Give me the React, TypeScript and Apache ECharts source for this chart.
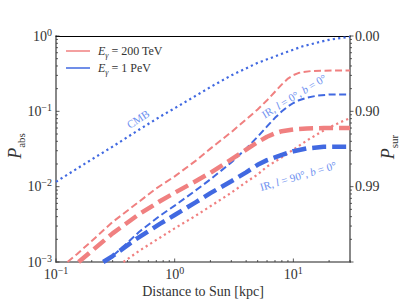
import React, { useEffect, useRef } from "react";
import * as echarts from "echarts";

// ---------- data (distance in kpc, absorption probability) ----------
const cmb1PeVDist = [0.1, 0.2, 0.3, 0.5, 0.8, 1, 2, 3, 5, 8, 12, 16, 20, 25, 30];
const cmb1PeVPabs = [0.0116, 0.023, 0.034, 0.057, 0.09, 0.11, 0.21, 0.3, 0.44, 0.58, 0.73, 0.82, 0.89, 0.94, 0.97];

const irGC200TeVDist = [0.125, 0.15, 0.2, 0.3, 0.5, 0.7, 1, 1.5, 2, 3, 4, 5, 6, 7, 8, 9, 10, 11, 12, 14, 17, 22, 30];
const irGC200TeVPabs = [0.001, 0.00127, 0.0019, 0.0034, 0.0063, 0.0095, 0.0137, 0.022, 0.032, 0.053, 0.078, 0.106, 0.14, 0.182, 0.228, 0.272, 0.303, 0.322, 0.333, 0.342, 0.346, 0.348, 0.348];

const ir90200TeVDist = [0.155, 0.2, 0.3, 0.5, 0.75, 1, 1.5, 2, 3, 4, 5, 6, 7, 8, 10, 13, 18, 30];
const ir90200TeVPabs = [0.001, 0.0014, 0.0024, 0.0043, 0.0064, 0.0083, 0.0118, 0.0153, 0.023, 0.031, 0.039, 0.046, 0.051, 0.0545, 0.0575, 0.0592, 0.06, 0.06];

const irGC1PeVDist = [0.26, 0.3, 0.4, 0.5, 0.75, 1, 1.5, 2, 3, 4, 5, 6, 7, 8, 9, 10, 11, 13, 16, 20, 30];
const irGC1PeVPabs = [0.001, 0.0012, 0.0018, 0.0025, 0.0041, 0.0056, 0.0089, 0.0125, 0.021, 0.032, 0.046, 0.063, 0.082, 0.1, 0.116, 0.129, 0.139, 0.152, 0.162, 0.167, 0.168];

const ir901PeVDist = [0.25, 0.3, 0.46, 0.75, 1, 1.5, 2, 3, 4, 5, 6, 8, 10, 13, 18, 30];
const ir901PeVPabs = [0.001, 0.0012, 0.00196, 0.0032, 0.0042, 0.0062, 0.0082, 0.0118, 0.0155, 0.0195, 0.0225, 0.0265, 0.0295, 0.0322, 0.0338, 0.034];

const cmb200TeVDist = [0.37, 0.5, 0.75, 1, 1.5, 2, 3, 4, 5, 6, 8, 10, 13, 16, 20, 25, 30];
const cmb200TeVPabs = [0.001, 0.0014, 0.0021, 0.0028, 0.0041, 0.0055, 0.0083, 0.0115, 0.0145, 0.0185, 0.0245, 0.031, 0.041, 0.05, 0.061, 0.072, 0.081];

// ---------- axes / ticks ----------
const xMin = 0.1;
const xMax = 30;
const yMin = 0.001;
const yMax = 1;
const xMajorTicks = [0.1, 1, 10];
const xMinorTicks = [0.2, 0.3, 0.4, 0.5, 0.6, 0.7, 0.8, 0.9, 2, 3, 4, 5, 6, 7, 8, 9, 20, 30];
const yMajorTicks = [0.001, 0.01, 0.1, 1];
const yMinorTicks = [
  0.002, 0.003, 0.004, 0.005, 0.006, 0.007, 0.008, 0.009,
  0.02, 0.03, 0.04, 0.05, 0.06, 0.07, 0.08, 0.09,
  0.2, 0.3, 0.4, 0.5, 0.6, 0.7, 0.8, 0.9,
];
const rightTickValues = [1, 0.1, 0.01];
const rightTickLabels = ["0.00", "0.90", "0.99"];

const RED = "#F08080";
const BLUE = "#4169E1";
const ANNOT = "#6E90F0";
const FONT = "Liberation Serif";
const TXT = "#333";

const zip = (a: number[], b: number[]) => a.map((v, i) => [v, b[i]]);

const powLabel = (v: number) => {
  const l = Math.log10(v);
  const e = Math.round(l);
  if (Math.abs(l - e) > 1e-6) return "";
  const s = e < 0 ? "\u2212" + -e : String(e);
  return `{b|10}{s|${s}}`;
};

const labelRich = {
  b: { fontSize: 14, fontFamily: FONT, color: TXT, lineHeight: 18 },
  s: { fontSize: 10, fontFamily: FONT, color: TXT, lineHeight: 10, verticalAlign: "top" },
};

export default function App() {
  const ref = useRef<HTMLDivElement>(null);

  useEffect(() => {
    if (!ref.current) return;
    const chart = echarts.init(ref.current, null, { renderer: "svg" });

    const lineSeries = (
      name: string,
      d: number[],
      p: number[],
      color: string,
      width: number,
      dash: number[]
    ) => ({
      name,
      type: "line",
      data: zip(d, p),
      showSymbol: false,
      symbol: "none",
      smooth: false,
      clip: true,
      lineStyle: { color, width, type: dash, cap: "butt", join: "round" },
      z: 3,
    });

    const italicRich = (size: number, subSize: number, color: string) => ({
      i: { fontStyle: "italic", fontSize: size, fontFamily: FONT, fill: color, lineHeight: size + 4 },
      sub: { fontStyle: "normal", fontSize: subSize, fontFamily: FONT, fill: color, lineHeight: subSize, verticalAlign: "bottom" },
      subi: { fontStyle: "italic", fontSize: subSize, fontFamily: FONT, fill: color, lineHeight: subSize, verticalAlign: "bottom" },
      r: { fontSize: size, fontFamily: FONT, fill: color, lineHeight: size + 4 },
    });

    const option: any = {
      animation: false,
      grid: { left: 56, right: 57, top: 36, bottom: 43, containLabel: false },
      xAxis: [
        {
          type: "log",
          logBase: 10,
          min: xMin,
          max: xMax,
          position: "bottom",
          axisLine: { show: true, onZero: false, lineStyle: { color: "#6a6a6a", width: 1.5 } },
          axisTick: { show: false },
          splitLine: { show: false },
          axisLabel: {
            margin: 3,
            formatter: (v: number) => powLabel(v),
            rich: labelRich,
            showMinLabel: true,
            showMaxLabel: true,
          },
        },
        {
          type: "log",
          logBase: 10,
          min: xMin,
          max: xMax,
          position: "top",
          axisLine: { show: true, onZero: false, lineStyle: { color: "#000", width: 1 } },
          axisTick: { show: false },
          splitLine: { show: false },
          axisLabel: { show: false },
        },
      ],
      yAxis: [
        {
          type: "log",
          logBase: 10,
          min: yMin,
          max: yMax,
          position: "left",
          axisLine: { show: true, onZero: false, lineStyle: { color: "#888", width: 2 } },
          axisTick: { show: false },
          splitLine: { show: false },
          axisLabel: {
            margin: 4,
            formatter: (v: number) => powLabel(v),
            rich: labelRich,
          },
        },
        {
          type: "log",
          logBase: 10,
          min: yMin,
          max: yMax,
          position: "right",
          axisLine: { show: true, onZero: false, lineStyle: { color: "#888", width: 2 } },
          axisTick: { show: false },
          splitLine: { show: false },
          axisLabel: {
            margin: 5,
            fontSize: 14,
            fontFamily: FONT,
            color: TXT,
            formatter: (v: number) => {
              for (let i = 0; i < rightTickValues.length; i++) {
                if (Math.abs(Math.log10(v) - Math.log10(rightTickValues[i])) < 1e-6) return rightTickLabels[i];
              }
              return "";
            },
          },
        },
      ],
      series: [
        lineSeries("CMB 1 PeV", cmb1PeVDist, cmb1PeVPabs, BLUE, 2.2, [2.2, 3.2]),
        lineSeries("CMB 200 TeV", cmb200TeVDist, cmb200TeVPabs, RED, 2.2, [2.2, 3.2]),
        lineSeries("IR l=0 200 TeV", irGC200TeVDist, irGC200TeVPabs, RED, 2, [7, 3.5]),
        lineSeries("IR l=0 1 PeV", irGC1PeVDist, irGC1PeVPabs, BLUE, 2, [7, 3.5]),
        lineSeries("IR l=90 200 TeV", ir90200TeVDist, ir90200TeVPabs, RED, 4.5, [14, 6]),
        lineSeries("IR l=90 1 PeV", ir901PeVDist, ir901PeVPabs, BLUE, 4.5, [14, 6]),
        {
          type: "custom",
          name: "ticks",
          xAxisIndex: 0,
          yAxisIndex: 0,
          data: [[1, 0.01]],
          z: 10,
          silent: true,
          renderItem: (params: any, api: any) => {
            const cs = params.coordSys;
            const left = cs.x;
            const right = cs.x + cs.width;
            const bottom = cs.y + cs.height;
            const children: any[] = [];
            const st = { stroke: "#333", lineWidth: 0.8 };
            const xt = (v: number, len: number) => {
              const p = api.coord([v, 0.01])[0];
              children.push({ type: "line", shape: { x1: p, y1: bottom, x2: p, y2: bottom - len }, style: st });
            };
            const yt = (v: number, len: number) => {
              const p = api.coord([1, v])[1];
              children.push({ type: "line", shape: { x1: left, y1: p, x2: left + len, y2: p }, style: st });
              children.push({ type: "line", shape: { x1: right, y1: p, x2: right + len, y2: p }, style: st });
            };
            xMajorTicks.forEach((v) => xt(v, 3.5));
            xMinorTicks.forEach((v) => xt(v, 2));
            yMajorTicks.forEach((v) => yt(v, 3.5));
            yMinorTicks.forEach((v) => yt(v, 2));
            return { type: "group", children };
          },
        },
      ],
      graphic: [
        {
          type: "text",
          x: 15,
          y: 146,
          rotation: Math.PI / 2,
          style: {
            text: "{i|P}{sub|abs}",
            align: "center",
            verticalAlign: "middle",
            fill: TXT,
            rich: italicRich(18, 11, TXT),
          },
        },
        {
          type: "text",
          x: 388,
          y: 147,
          rotation: Math.PI / 2,
          style: {
            text: "{i|P}{sub|sur}",
            align: "center",
            verticalAlign: "middle",
            fill: TXT,
            rich: italicRich(18, 11, TXT),
          },
        },
        {
          type: "text",
          x: 203,
          y: 291,
          style: {
            text: "Distance to Sun [kpc]",
            align: "center",
            verticalAlign: "middle",
            fontSize: 14,
            fontFamily: FONT,
            fill: TXT,
          },
        },
        {
          type: "text",
          x: 138,
          y: 119,
          rotation: (33 * Math.PI) / 180,
          style: {
            text: "CMB",
            align: "center",
            verticalAlign: "middle",
            fontSize: 11,
            fontFamily: FONT,
            fill: ANNOT,
          },
        },
        {
          type: "text",
          x: 294,
          y: 96,
          rotation: (31.5 * Math.PI) / 180,
          style: {
            text: "{r|IR, }{i|l}{r| = 0°, }{i|b}{r| = 0°}",
            align: "center",
            verticalAlign: "middle",
            fill: ANNOT,
            rich: italicRich(11, 8, ANNOT),
          },
        },
        {
          type: "text",
          x: 298,
          y: 176,
          rotation: (16.5 * Math.PI) / 180,
          style: {
            text: "{r|IR, }{i|l}{r| = 90°, }{i|b}{r| = 0°}",
            align: "center",
            verticalAlign: "middle",
            fill: ANNOT,
            rich: italicRich(11, 8, ANNOT),
          },
        },
        {
          type: "line",
          shape: { x1: 66, y1: 51, x2: 90, y2: 51 },
          style: { stroke: RED, lineWidth: 1.5 },
        },
        {
          type: "line",
          shape: { x1: 66, y1: 68, x2: 90, y2: 68 },
          style: { stroke: BLUE, lineWidth: 1.5 },
        },
        {
          type: "text",
          x: 98,
          y: 51,
          style: {
            text: "{i|E}{subi|γ}{r| = 200 TeV}",
            align: "left",
            verticalAlign: "middle",
            fill: TXT,
            rich: italicRich(12, 8, TXT),
          },
        },
        {
          type: "text",
          x: 98,
          y: 68,
          style: {
            text: "{i|E}{subi|γ}{r| = 1 PeV}",
            align: "left",
            verticalAlign: "middle",
            fill: TXT,
            rich: italicRich(12, 8, TXT),
          },
        },
      ],
    };

    chart.setOption(option);
    return () => chart.dispose();
  }, []);

  return <div ref={ref} style={{ width: 407, height: 305, position: "absolute", left: 0, top: 0 }} />;
}
